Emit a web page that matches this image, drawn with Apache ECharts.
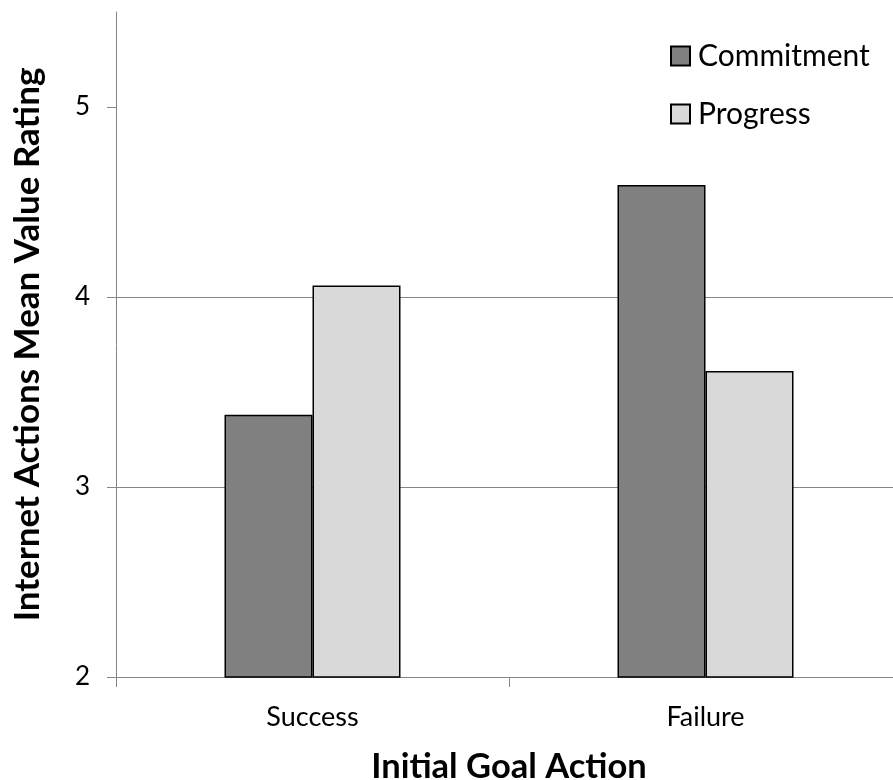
<!DOCTYPE html>
<html>
<head>
<meta charset="utf-8">
<script src="https://cdn.jsdelivr.net/npm/echarts@6/dist/echarts.min.js"></script>
<style>
  html, body { margin: 0; padding: 0; background: #fff; }
  #chart { width: 893px; height: 780px; }
</style>
</head>
<body>
<div id="chart"></div>
<script>
// Mean value ratings of internet actions by initial goal outcome
const categories = ['Success', 'Failure'];
const commitment = [3.38, 4.59];
const progress = [4.06, 3.61];
const yTicks = [2, 3, 4, 5];

const FONT = 'Lato';
const GRID_COLOR = '#868686';

const chart = echarts.init(document.getElementById('chart'), null, { renderer: 'canvas' });

chart.setOption({
  animation: false,
  backgroundColor: '#fff',
  textStyle: { fontFamily: FONT, color: '#000' },
  grid: { left: 116, top: 12, bottom: 103, right: -9, containLabel: false, outerBoundsMode: 'none' },
  legend: {
    orient: 'vertical',
    left: 631,
    top: 31,
    padding: [10, 20, 10, 39],
    backgroundColor: '#fff',
    itemWidth: 19,
    itemHeight: 19,
    itemGap: 28,
    icon: 'rect',
    textStyle: { fontFamily: FONT, fontSize: 30, color: '#000', lineHeight: 30, padding: [0, 0, 0, 3] },
    data: ['Commitment', 'Progress']
  },
  xAxis: {
    type: 'category',
    data: categories,
    name: 'Initial Goal Action',
    nameLocation: 'middle',
    nameGap: 72,
    nameTextStyle: { fontFamily: FONT, fontSize: 34.5, fontWeight: 'bold', color: '#000' },
    axisLine: { lineStyle: { color: GRID_COLOR, width: 1 } },
    axisTick: { show: true, length: 10, lineStyle: { color: GRID_COLOR, width: 1 } },
    axisLabel: { fontFamily: FONT, fontSize: 27, color: '#000', margin: 27 }
  },
  yAxis: {
    type: 'value',
    min: 2,
    max: 5.5,
    interval: 1,
    name: 'Internet Actions Mean Value Rating',
    nameLocation: 'middle',
    nameGap: 71,
    nameTextStyle: { fontFamily: FONT, fontSize: 35, fontWeight: 'bold', color: '#000' },
    axisLine: { show: true, lineStyle: { color: GRID_COLOR, width: 1 } },
    axisTick: { show: true, length: 9, customValues: yTicks, lineStyle: { color: GRID_COLOR, width: 1 } },
    axisLabel: { fontFamily: FONT, fontSize: 26, color: '#000', margin: 26, customValues: yTicks },
    splitLine: { show: true, showMaxLine: false, lineStyle: { color: GRID_COLOR, width: 1 } }
  },
  series: [
    {
      name: 'Commitment',
      type: 'bar',
      data: commitment,
      barWidth: 88,
      barGap: '0%',
      itemStyle: { color: '#808080', borderColor: '#000', borderWidth: 1.5 }
    },
    {
      name: 'Progress',
      type: 'bar',
      data: progress,
      barWidth: 88,
      barGap: '0%',
      itemStyle: { color: '#d9d9d9', borderColor: '#000', borderWidth: 1.5 }
    }
  ]
});
</script>
</body>
</html>
